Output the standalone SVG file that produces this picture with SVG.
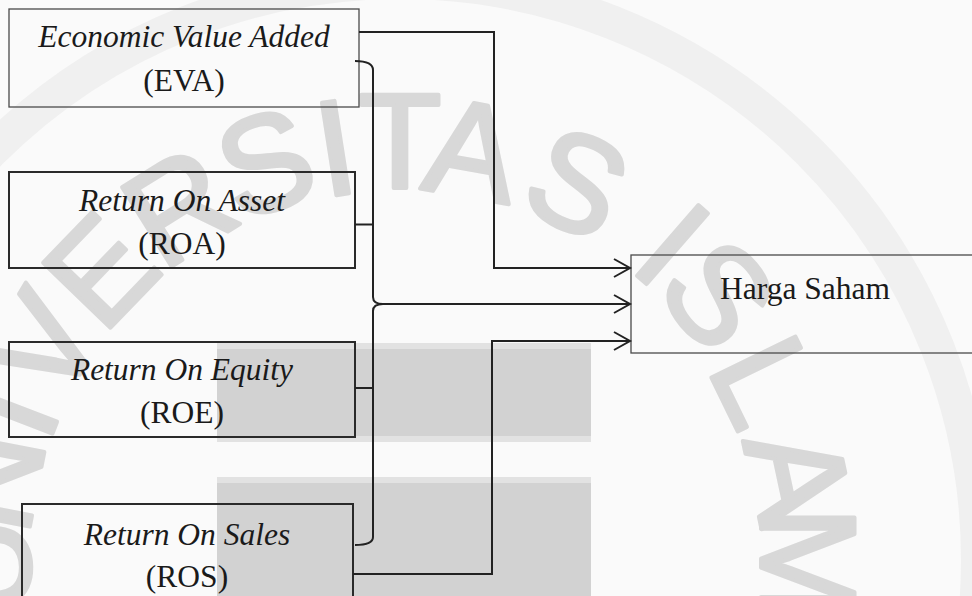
<svg xmlns="http://www.w3.org/2000/svg" width="972" height="596" viewBox="0 0 972 596">
<style>
.box{fill:none;stroke:#2a2a2a;stroke-width:2}
.thin{fill:none;stroke:#4a4a4a;stroke-width:1.3}
.it{font-family:"Liberation Serif","Times New Roman",serif;font-style:italic;font-size:31.5px;fill:#1a1a1a;text-anchor:middle}
.rg{font-family:"Liberation Serif","Times New Roman",serif;font-size:31.5px;fill:#1a1a1a;text-anchor:middle}
.wm{font-family:"Liberation Sans",Arial,sans-serif;font-size:136px;fill:#d8d8d8;stroke:#d8d8d8;stroke-width:4;stroke-linejoin:round;text-anchor:middle}
.con{fill:none;stroke:#222;stroke-width:2}
</style>
<defs>
<marker id="arr" markerUnits="userSpaceOnUse" markerWidth="20" markerHeight="22" refX="17" refY="10" orient="auto">
<path d="M1,1 L17,10 L1,19" fill="none" stroke="#222" stroke-width="2"/>
</marker>
</defs>
<rect x="0" y="0" width="972" height="596" fill="#fafafa"/>
<g id="background">
<circle cx="400" cy="560" r="578" fill="none" stroke="#f0f0f0" stroke-width="34"/>
<rect x="217" y="343" width="374" height="99" fill="#e2e2e2"/>
<rect x="217" y="349" width="374" height="87" fill="#d2d2d2"/>
<rect x="217" y="477" width="374" height="119" fill="#e2e2e2"/>
<rect x="217" y="483" width="374" height="113" fill="#d2d2d2"/>
</g>
<g id="watermark">
<text class="wm" transform="translate(-19,567) rotate(-91)" y="49">U</text>
<text class="wm" transform="translate(-11,480) rotate(-79)" y="49">N</text>
<text class="wm" transform="translate(9,410) rotate(-69)" y="49">I</text>
<text class="wm" transform="translate(41,344) rotate(-59)" y="49">V</text>
<text class="wm" transform="translate(99,269) rotate(-46)" y="49">E</text>
<text class="wm" transform="translate(178,205) rotate(-32)" y="49">R</text>
<text class="wm" transform="translate(265,161) rotate(-18.8)" y="49">S</text>
<text class="wm" transform="translate(335,146) rotate(-8.9)" y="49">I</text>
<text class="wm" transform="translate(400,139)" y="49">T</text>
<text class="wm" transform="translate(473,148) rotate(10)" y="49">A</text>
<text class="wm" transform="translate(578,181) rotate(25)" y="49">S</text>
<text class="wm" transform="translate(674,243) rotate(41)" y="49">I</text>
<text class="wm" transform="translate(720,293) rotate(50)" y="49">S</text>
<text class="wm" transform="translate(767,380) rotate(64)" y="49">L</text>
<text class="wm" transform="translate(800,475) rotate(78)" y="49">A</text>
<text class="wm" transform="translate(810,563) rotate(90)" y="49">M</text>
</g>
<g id="eva">
<rect class="thin" x="9" y="9" width="350" height="98"/>
<text class="it" x="184" y="47">Economic Value Added</text>
<text class="rg" x="184" y="91">(EVA)</text>
</g>
<g id="roa">
<rect class="box" x="9" y="172" width="346" height="96"/>
<text class="it" x="182" y="210.5">Return On Asset</text>
<text class="rg" x="182" y="253.5">(ROA)</text>
</g>
<g id="roe">
<rect class="box" x="9" y="342" width="346" height="95"/>
<text class="it" x="182" y="380">Return On Equity</text>
<text class="rg" x="182" y="423">(ROE)</text>
</g>
<g id="ros">
<rect class="box" x="22" y="504" width="331" height="110"/>
<text class="it" x="187" y="544.5">Return On Sales</text>
<text class="rg" x="187" y="586.5">(ROS)</text>
</g>
<g id="harga">
<rect class="thin" x="631" y="255" width="360" height="98"/>
<text class="rg" x="805" y="299">Harga Saham</text>
</g>
<g id="connectors">
<path class="con" d="M359,32 H494 V268 H630" marker-end="url(#arr)"/>
<path class="con" d="M355,61 Q373,61 373,70 V297 Q373,304 383,304 Q373,304 373,311 V537 Q373,545 355,545"/>
<path class="con" d="M355,224.5 H373"/>
<path class="con" d="M355,388 H373"/>
<path class="con" d="M383,304 H630" marker-end="url(#arr)"/>
<path class="con" d="M353,574 H492 V341 H630" marker-end="url(#arr)"/>
</g>
</svg>
